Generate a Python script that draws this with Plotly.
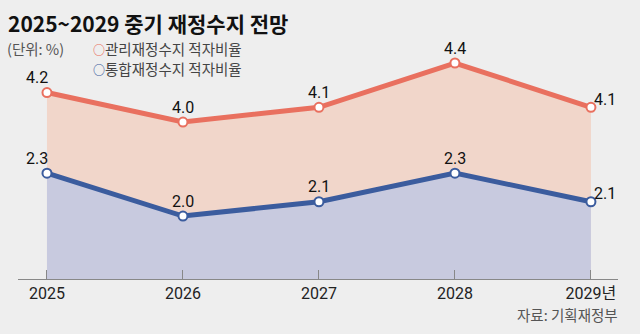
import plotly.graph_objects as go

years = [2025, 2026, 2027, 2028, 2029]
tick_labels = ["2025", "2026", "2027", "2028", "2029년"]
managed = [4.2, 4.0, 4.1, 4.4, 4.1]      # 관리재정수지 적자비율
integrated = [2.3, 2.0, 2.1, 2.3, 2.1]   # 통합재정수지 적자비율
names = ["관리재정수지 적자비율", "통합재정수지 적자비율"]

RED = "#e9705f"
RED_FILL = "#f1d6ca"
BLUE = "#3b5c9e"
BLUE_FILL = "#c8cadf"
BG = "#eeeeee"
NUM_FONT = "Roboto, sans-serif"
KR_FONT = "Noto Sans CJK KR, sans-serif"

fig = go.Figure()
fig.add_trace(go.Scatter(
    x=years, y=managed, mode="lines+markers", fill="tozeroy", fillcolor=RED_FILL,
    line=dict(color=RED, width=5),
    marker=dict(size=9, color="white", line=dict(color=RED, width=2)),
    showlegend=False, yaxis="y", cliponaxis=False))
fig.add_trace(go.Scatter(
    x=years, y=integrated, mode="lines+markers", fill="tozeroy", fillcolor=BLUE_FILL,
    line=dict(color=BLUE, width=5),
    marker=dict(size=9, color="white", line=dict(color=BLUE, width=2)),
    showlegend=False, yaxis="y2", cliponaxis=False))

annotations = []
for series, yref in ((managed, "y"), (integrated, "y2")):
    for i, (xv, yv) in enumerate(zip(years, series)):
        xs, ys = 0, 15
        if i == 0:
            xs = -10
        if i == len(years) - 1:
            xs, ys = 14, 8
        annotations.append(dict(
            x=xv, y=yv, xref="x", yref=yref, text=f"{yv:.1f}", showarrow=False,
            xshift=xs, yshift=ys, font=dict(family=NUM_FONT, size=16, color="#111")))

annotations += [
    dict(x=6 / 640, y=1 - 23 / 334, xref="paper", yref="paper", xanchor="left", yanchor="middle",
         text="<b>2025~2029 중기 재정수지 전망</b>", showarrow=False,
         font=dict(family=KR_FONT, size=21, color="#111")),
    dict(x=5 / 640, y=1 - 48 / 334, xref="paper", yref="paper", xanchor="left", yanchor="middle",
         text="(단위: %)", showarrow=False, font=dict(family=KR_FONT, size=14.5, color="#555")),
    dict(x=91 / 640, y=1 - 48 / 334, xref="paper", yref="paper", xanchor="left", yanchor="middle",
         text=f"<span style='color:{RED};font-size:12px'><b>○</b></span>{names[0]}", showarrow=False,
         font=dict(family=KR_FONT, size=14.5, color="#444")),
    dict(x=91 / 640, y=1 - 68 / 334, xref="paper", yref="paper", xanchor="left", yanchor="middle",
         text=f"<span style='color:{BLUE};font-size:12px'><b>○</b></span>{names[1]}", showarrow=False,
         font=dict(family=KR_FONT, size=14.5, color="#444")),
    dict(x=620 / 640, y=1 - 314 / 334, xref="paper", yref="paper", xanchor="right", yanchor="middle",
         text="자료: 기획재정부", showarrow=False, font=dict(family=KR_FONT, size=14.5, color="#555")),
]

fig.update_layout(
    width=640, height=334, margin=dict(l=0, r=0, t=0, b=0),
    paper_bgcolor=BG, plot_bgcolor=BG,
    xaxis=dict(domain=[18 / 640, 618 / 640], range=[2024.787, 2029.199], tickvals=years,
               ticktext=tick_labels, ticks="inside", ticklen=9, tickcolor="#888",
               showline=True, linecolor="#888", linewidth=1, showgrid=False, zeroline=False,
               tickfont=dict(family=NUM_FONT + ", Noto Sans CJK KR", size=16, color="#222")),
    yaxis=dict(domain=[55 / 334, 1 - 40 / 334], range=[2.936, 4.556], visible=False,
               showgrid=False, zeroline=False),
    yaxis2=dict(domain=[55 / 334, 1 - 40 / 334], range=[1.56, 3.231], overlaying="y",
                visible=False, showgrid=False, zeroline=False),
    showlegend=False,
    annotations=annotations,
)
fig.write_html("out.html")
